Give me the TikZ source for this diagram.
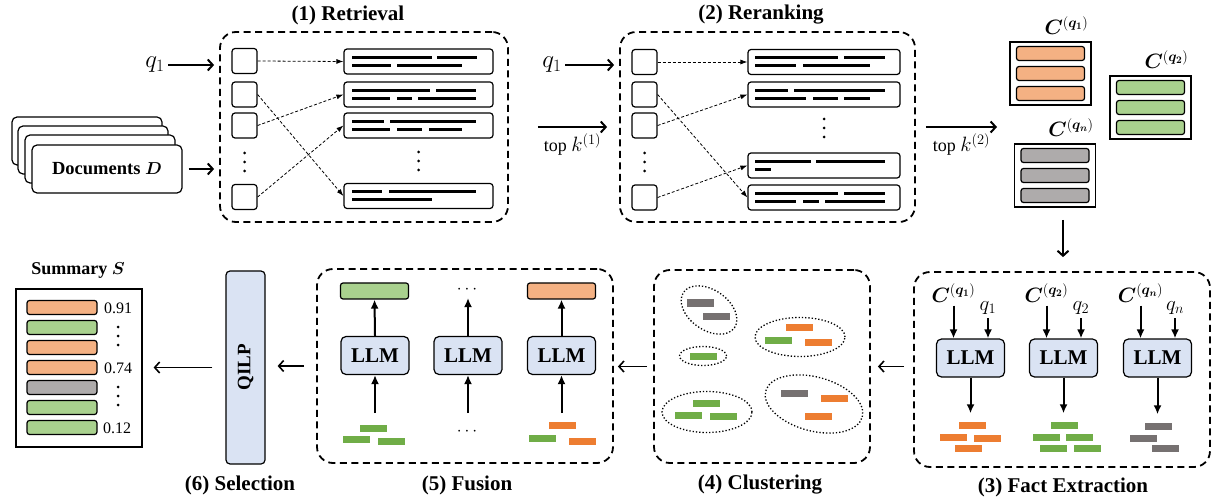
\documentclass[tikz,border=0pt]{standalone}
\usepackage{fontspec}
\setmainfont{Liberation Serif}
\usepackage{bm}
\usetikzlibrary{arrows.meta,calc,shapes.geometric,positioning}

\definecolor{lightorange}{HTML}{F4B183}
\definecolor{lightgreen}{HTML}{A9D18E}
\definecolor{lightgray}{HTML}{AEABAB}
\definecolor{llmblue}{HTML}{DAE3F3}
\definecolor{factorange}{HTML}{ED7D31}
\definecolor{factgreen}{HTML}{70AD47}
\definecolor{factgray}{HTML}{767171}

\tikzset{
  stage/.style={draw, line width=1.8pt, dash pattern=on 7pt off 4.5pt, rounded corners=16pt, inner sep=0},
  stagetitle/.style={font=\fontsize{21}{24}\selectfont\bfseries},
  slot/.style={draw, line width=1.2pt, rounded corners=3pt, minimum width=25pt, minimum height=25pt, inner sep=0},
  passage/.style={draw, line width=1.2pt, rounded corners=3pt, minimum height=25pt, inner sep=0},
  textline/.style={line width=3pt},
  link/.style={densely dashed, line width=0.8pt, -{Latex[length=7pt,width=5pt]}},
  feed/.style={line width=2pt, -{Straight Barb[length=5pt,width=11pt]}},
  flowarrow/.style={line width=2pt, -{Latex[length=9pt,width=8pt]}},
  stagearrow/.style={line width=1.6pt, -{Straight Barb[length=5pt,width=11pt]}},
  llm/.style={draw, line width=1.2pt, fill=llmblue, rounded corners=5pt, minimum width=68pt, minimum height=38pt, inner sep=0, font=\fontsize{21}{24}\selectfont\bfseries},
  chunk/.style={draw, line width=1.2pt, rounded corners=2.5pt, minimum width=68pt, minimum height=14pt, inner sep=0},
  chunkset/.style={draw, line width=1.2pt, minimum width=81pt, minimum height=63pt, inner sep=0},
  fact/.style={minimum width=27pt, minimum height=7pt, inner sep=0},
  cluster/.style={draw, ellipse, dotted, line width=1.3pt, inner sep=0},
  clabel/.style={font=\fontsize{20}{20}\selectfont},
  qlabel/.style={font=\fontsize{25}{25}\selectfont},
  toplabel/.style={font=\fontsize{18}{18}\selectfont},
  dotsnode/.style={font=\fontsize{18}{18}\selectfont, inner sep=0},
  score/.style={font=\fontsize{16}{16}\selectfont}
}

% two text lines inside a passage box
\newcommand{\passagelines}[3]{%
  \foreach \a/\b in {#2} \draw[textline] ($(#1.west)+(\a,-4)$) -- ($(#1.west)+(\b,-4)$);
  \foreach \a/\b in {#3} \draw[textline] ($(#1.west)+(\a,4)$) -- ($(#1.west)+(\b,4)$);}
% three dots in a column round a named coordinate
\newcommand{\dotcolumn}[1]{%
  \foreach \d in {-9,0,9} \fill ($(#1)+(0,\d)$) circle (1.5pt);}
\newcommand{\topk}[1]{top {\fontsize{22}{22}\selectfont$k^{(#1)}$}}

\begin{document}
\begin{tikzpicture}[x=1pt,y=-1pt]
\useasboundingbox (0,0) rectangle (1214,502);

% documents
\foreach \x/\y [count=\i] in {87/141,93/150,100/159,107/169}
  \node[draw, fill=white, line width=1.2pt, rounded corners=5pt, minimum width=150pt, minimum height=48pt] (card\i) at (\x,\y) {};
\node[font=\fontsize{18.5}{20}\selectfont\bfseries] (docs) at (card4) {Documents $\bm{D}$};

% (1) retrieval
\node[stage, minimum width=288pt, minimum height=190pt] (retr) at (364,127) {};
\node[stagetitle] (retrtitle) at (348,15) {(1) Retrieval};
\foreach \y [count=\i] in {61,94.5,125.5,197}
  \node[slot] (rs\i) at (244.5,\y) {};
\coordinate (rsdots) at (244.5,162);
\dotcolumn{rsdots}
\foreach \y [count=\i] in {61.5,94.5,125.5,196}
  \node[passage, minimum width=149pt] (rp\i) at (418.5,\y) {};
\coordinate (rpdots) at (418.5,161);
\dotcolumn{rpdots}
\passagelines{rp1}{9/89,94/134}{9/48,54/119}
\passagelines{rp2}{9/87,93/133}{9/47,54/69,75/133}
\passagelines{rp3}{9/41,47/133}{9/47,54/79,86/119}
\passagelines{rp4}{9/39,46/133}{9/89}
\draw[link] (rs1.east) -- (rp1.west);
\draw[link] (rs2.east) -- (rp4.west);
\draw[link] (rs3.east) -- (rp2.west);
\draw[link] (rs4.east) -- (rp3.west);
\node[qlabel] (rq) at (155,65) {$q_1$};
\draw[feed, shorten >=5pt] (rq.east) -- (rq.east -| retr.west);
\draw[feed, shorten <=6pt, shorten >=5pt] (card4.east) -- (card4.east -| retr.west);

% (2) reranking
\node[stage, minimum width=295pt, minimum height=190pt] (rera) at (767.5,127) {};
\node[stagetitle] (reratitle) at (761,15) {(2) Reranking};
\foreach \y [count=\i] in {62,94.5,125.5,197.5}
  \node[slot] (ks\i) at (644.5,\y) {};
\coordinate (ksdots) at (644.5,162);
\dotcolumn{ksdots}
\foreach \y [count=\i] in {62,94.5,165.5,197.5}
  \node[passage, minimum width=152pt] (kp\i) at (824,\y) {};
\coordinate (kpdots) at (824,128);
\dotcolumn{kpdots}
\passagelines{kp1}{8/91,97/138}{8/49,56/123}
\passagelines{kp2}{8/41,47/138}{8/59,66/91,97/123}
\passagelines{kp3}{8/64,69/138}{8/24}
\passagelines{kp4}{8/91,97/138}{8/49,56/72,78/138}
\draw[link] (ks1.east) -- (kp1.west);
\draw[link] (ks2.east) -- (kp4.west);
\draw[link] (ks3.east) -- (kp2.west);
\draw[link] (ks4.east) -- (kp3.west);
\node[qlabel] (kq) at (552,65) {$q_1$};
\draw[feed, shorten >=5pt] (kq.east) -- (kq.east -| rera.west);
\draw[feed] ([xshift=29pt]retr.east) -- ([xshift=-12pt]rera.west)
  node[midway, below=2pt, toplabel] (k1) {\topk{1}};

% candidate sets
\coordinate (setsin) at (997,127);
\draw[feed] ([xshift=10pt]rera.east) -- (setsin)
  node[midway, below=2pt, toplabel] (k2) {\topk{2}};
\foreach \x/\y/\c/\qi [count=\i] in {1050.5/73.5/lightorange/1, 1150.5/107.5/lightgreen/2, 1055/175.5/lightgray/n} {
  \node[chunkset] (cs\i) at (\x,\y) {};
  \foreach \dy [count=\j] in {-20,0,20}
    \node[chunk, fill=\c] (cs\i b\j) at ($(cs\i)+(0,\dy)$) {};
  \node[clabel] (cs\i lab) at ($(cs\i)+(16,-48)$) {$\bm{C}^{(\bm{q_\qi})}$};
}

% (3) fact extraction
\node[stage, minimum width=296pt, minimum height=195pt] (fact) at (1062,369.5) {};
\node[stagetitle] (facttitle) at (1063,487) {(3) Fact Extraction};
\coordinate (setsout) at (1063,220);
\draw[feed, shorten >=14pt] (setsout) -- (setsout |- fact.north);
\foreach \x/\qi [count=\i] in {970.5/1, 1063.5/2, 1157.5/n} {
  \node[llm] (fl\i) at (\x,358) {LLM};
  \node[clabel] (fc\i) at ($(fl\i)+(-17,-65)$) {$\bm{C}^{(\bm{q_\qi})}$};
  \node[font=\fontsize{21}{21}\selectfont] (fq\i) at ($(fl\i)+(17.5,-50)$) {$q_\qi$};
  \draw[flowarrow] (fc\i.south) -- (fc\i.south |- fl\i.north);
  \draw[flowarrow] (fq\i.south) -- (fq\i.south |- fl\i.north);
}
\foreach \x/\y [count=\i] in {972/425,953/437,987/438,968/448}
  \node[fact, fill=factorange] (fo\i) at (\x,\y) {};
\foreach \x/\y [count=\i] in {1064/425,1046/437,1079/437,1053/448,1087/448}
  \node[fact, fill=factgreen] (fg\i) at (\x,\y) {};
\foreach \x/\y [count=\i] in {1158/426,1143/438,1165/448}
  \node[fact, fill=factgray] (fy\i) at (\x,\y) {};
\draw[flowarrow, shorten >=8pt] (fl1.south) -- (fl1.south |- fo1.north);
\draw[flowarrow, shorten >=8pt] (fl2.south) -- (fl2.south |- fg1.north);
\draw[flowarrow, shorten >=8pt] (fl3.south) -- (fl3.south |- fy1.north);

% (4) clustering
\node[stage, minimum width=216pt, minimum height=193pt] (clus) at (762,366.5) {};
\node[stagetitle] (clustitle) at (760,485) {(4) Clustering};
\node[cluster, minimum width=62pt, minimum height=40pt, rotate=-35] (cl1) at (709,310) {};
\node[cluster, minimum width=90pt, minimum height=39pt] (cl2) at (800,337) {};
\node[cluster, minimum width=47pt, minimum height=19pt] (cl3) at (703,356) {};
\node[cluster, minimum width=90pt, minimum height=41pt] (cl4) at (707,412) {};
\node[cluster, minimum width=100pt, minimum height=54pt, rotate=-15] (cl5) at (814,404) {};
\foreach \x/\y/\c [count=\i] in {700/303/factgray, 716/316/factgray,
    799/327/factorange, 778/340/factgreen, 818/342/factorange,
    703/356/factgreen,
    706/403/factgreen, 688/415/factgreen, 723/416/factgreen,
    794/393/factgray, 834/398/factorange, 818/416/factorange}
  \node[fact, fill=\c] (cf\i) at (\x,\y) {};

% (5) fusion
\node[stage, minimum width=296pt, minimum height=194pt] (fus) at (465,366) {};
\node[stagetitle] (fustitle) at (467,485) {(5) Fusion};
\foreach \x [count=\i] in {375,468,561.5}
  \node[llm] (ul\i) at (\x,355.5) {LLM};
\node[chunk, minimum height=16pt, fill=lightgreen] (uo1) at (374.5,291) {};
\node[dotsnode] (uo2) at (467,290) {$\cdots$};
\node[chunk, minimum height=16pt, fill=lightorange] (uo3) at (561.5,291) {};
\draw[flowarrow] (ul1.north) -- (uo1.south);
\draw[flowarrow, shorten >=4pt] (ul2.north) -- (ul2.north |- uo2.south);
\draw[flowarrow] (ul3.north) -- (uo3.south);
\foreach \x/\y/\c [count=\i] in {373/428/factgreen, 356/439/factgreen, 391/441/factgreen,
    562/425/factorange, 542/438/factgreen, 582/441/factorange}
  \node[fact, fill=\c] (uf\i) at (\x,\y) {};
\node[dotsnode] (ufdots) at (467,432) {$\cdots$};
\foreach \i in {1,2,3}
  \coordinate (uin\i) at ($(ul\i.south)+(0,38)$);
\foreach \i in {1,2,3}
  \draw[flowarrow] (uin\i) -- (ul\i.south);

% (6) selection
\node[draw, line width=1.2pt, fill=llmblue, rounded corners=4pt, minimum width=39pt, minimum height=193pt] (qilp) at (245.5,367.5) {};
\node[rotate=90, font=\fontsize{19}{19}\selectfont\bfseries] (qilptext) at (qilp) {QILP};
\node[stagetitle] (seltitle) at (240,485) {(6) Selection};

% summary
\node[draw, line width=1.2pt, minimum width=126pt, minimum height=158pt] (summ) at (79,368) {};
\node[font=\fontsize{18}{20}\selectfont\bfseries] (summtitle) at (78,270) {Summary $\bm{S}$};
\foreach \c [count=\i] in {lightorange,lightgreen,lightorange,lightorange,lightgray,lightgreen,lightgreen}
  \node[chunk, minimum width=70pt, fill=\c] (sb\i) at (62,{287.5+20*\i}) {};
\node[score] (s1) at (118,308) {0.91};
\coordinate (s2) at (118,336);
\dotcolumn{s2}
\node[score] (s3) at (118,368) {0.74};
\coordinate (s4) at (118,396);
\dotcolumn{s4}
\node[score] (s5) at (117,428) {0.12};

% stage to stage
\draw[stagearrow, shorten <=9pt, shorten >=7pt] (fact.west |- clus.east) -- (clus.east);
\draw[stagearrow, shorten <=6pt, shorten >=4pt] (clus.west) -- (clus.west -| fus.east);
\draw[stagearrow, shorten <=12pt, shorten >=12pt] (fus.west) -- (fus.west -| qilp.east);
\draw[stagearrow, shorten <=13pt, shorten >=11pt] (qilp.west) -- (qilp.west -| summ.east);
\end{tikzpicture}
\end{document}
